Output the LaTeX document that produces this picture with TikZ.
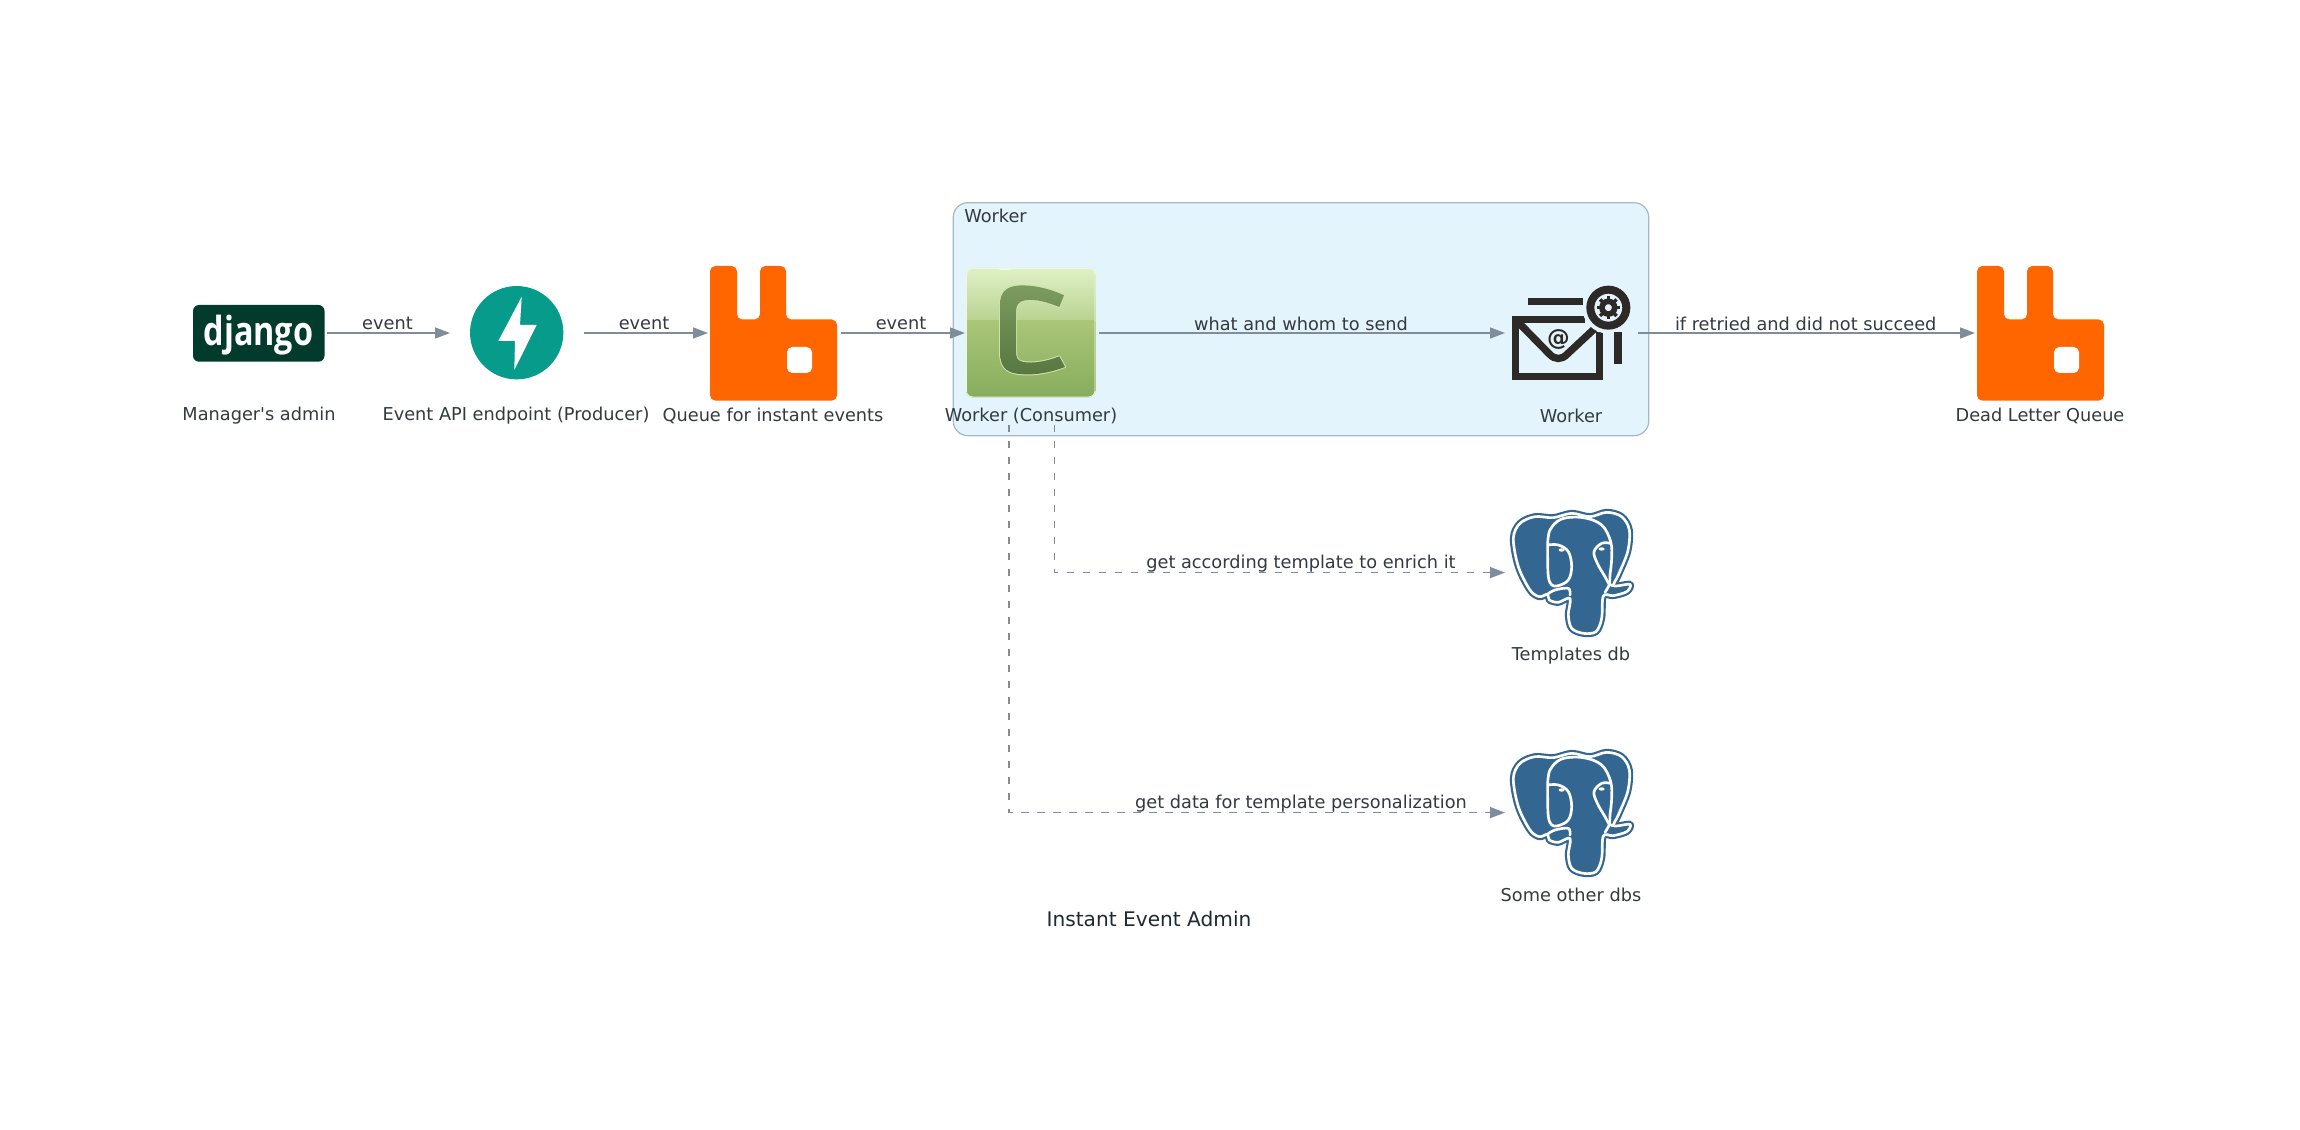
\documentclass[tikz,border=0pt]{standalone}
\usepackage{fontspec}
\setmainfont{DejaVu Sans}
\newfontfamily\lblfont{DejaVu Sans}
\newfontfamily\djangofont{Open Sans}
\usetikzlibrary{arrows.meta}
\definecolor{linec}{HTML}{7F8C9B}
\definecolor{textc}{HTML}{333A40}
\definecolor{titlec}{HTML}{1F2A30}
\definecolor{clusterfill}{HTML}{E3F4FC}
\definecolor{clusterline}{HTML}{A6B8C6}
\definecolor{rabbitc}{HTML}{FF6600}
\definecolor{djangoc}{HTML}{023B2B}
\definecolor{fastc}{HTML}{079B8B}
\definecolor{pgc}{HTML}{336791}
\definecolor{mailc}{HTML}{2D2926}
\definecolor{celA}{HTML}{E0F0C6}
\definecolor{celB}{HTML}{B9D391}
\definecolor{celC}{HTML}{AAC679}
\definecolor{celD}{HTML}{86AC5C}
\definecolor{celE}{HTML}{7C9C60}
\definecolor{celG}{HTML}{587640}
\definecolor{celF}{HTML}{CFE2AE}
\tikzset{
  x=0.75pt,y=-0.75pt,
  iconbox/.style={inner sep=0pt,outer sep=0pt,minimum width=#1*0.75pt,minimum height=100pt},
  lbl/.style={text=textc,font=\lblfont\fontsize{13.3}{15}\selectfont,inner sep=0pt,anchor=center},
  edgelbl/.style={lbl},
  flow/.style={draw=linec,line width=1.1pt,-{Triangle[length=11.25pt,width=8.25pt,fill=linec]},shorten <=1.5pt,shorten >=1.5pt},
  dashflow/.style={flow,dash pattern=on 5.5pt off 6.5pt},
  rabbit/.pic={
    \fill[rabbitc,rounded corners=4pt,even odd rule]
      (0,0)--(27,0)--(27,53.5)--(50,53.5)--(50,0)--(76,0)--(76,53.5)--(127,53.5)--(127,134.7)--(0,134.7)--cycle;
    \fill[white,rounded corners=4pt] (77,81) rectangle (102,107);
  },
  elephant/.pic={
    \begin{scope}[shift={(-81.5,-77.6)},x=0.25pt,y=-0.25pt,line cap=round,line join=round]
      \def\outl{(70,130)(90,85)(135,65)(190,68)(245,55)(300,65)(350,52)(395,65)(418,105)(413,170)(385,240)(372,272)(420,268)(410,290)(370,302)(340,303)(335,370)(318,410)(280,415)(245,400)(235,360)(240,310)(205,322)(178,315)(172,298)(148,305)(120,285)(85,215)}
      \draw[pgc,fill=pgc,line width=5.25pt] plot[smooth cycle,tension=.55] coordinates {\outl};
      \draw[white,line width=2pt] plot[smooth cycle,tension=.55] coordinates {\outl};
      \draw[white,line width=2pt] plot[smooth,tension=.6] coordinates {(173,150)(180,105)(215,72)(280,68)(335,90)(362,140)(365,190)(360,240)(358,268)(345,292)};
      \draw[white,line width=2pt] plot[smooth,tension=.6] coordinates {(173,150)(205,150)(235,170)(245,215)(235,255)(205,272)(185,270)(175,245)(173,190)(173,150)};
      \draw[white,line width=2pt] plot[smooth,tension=.6] coordinates {(362,145)(335,145)(312,170)(322,205)(345,245)(358,268)(372,272)};
      \draw[white,line width=2pt] plot[smooth,tension=.6] coordinates {(172,298)(195,285)(235,280)(240,300)};
      \fill[white] (215,165) ellipse (9 and 5);
      \fill[white] (335,162) ellipse (9 and 5);
    \end{scope}
  },
}
\begin{document}
\begin{tikzpicture}
\useasboundingbox (0,0) rectangle (2300,1130);
\fill[white] (0,0) rectangle (2300,1130);

% cluster
\node[draw=clusterline,fill=clusterfill,line width=0.9pt,rounded corners=11pt,minimum width=695.5*0.75pt,minimum height=233*0.75pt,inner sep=0pt,outer sep=0pt] (cluster) at (1301,319.2) {};
\node[lbl,anchor=west] (clusterlbl) at (964,216) {Worker};

% icon anchor boxes
\node[iconbox=132] (django) at (259,333) {};
\node[iconbox=130] (fast) at (517,333) {};
\node[iconbox=129] (queue) at (774.5,333) {};
\node[iconbox=130] (celery) at (1032,333) {};
\node[iconbox=129] (mail) at (1571.5,333) {};
\node[iconbox=129] (dlq) at (2041.5,333) {};
\node[iconbox=129] (pgone) at (1571.5,572.6) {};
\node[iconbox=129] (pgtwo) at (1571.5,812.6) {};

% django
\fill[djangoc,rounded corners=4.5pt] (193,305) rectangle (324.5,361.7);
\node[text=white,inner sep=0pt,font=\djangofont\bfseries\fontsize{30}{31}\selectfont,xscale=.81] (djangotext) at (258.5,335) {django};

% fastapi
\fill[fastc] (516.7,332.7) circle (35pt);
\fill[white] (521.7,296.7)--(498.3,341)--(515,341)--(514.3,370)--(536.7,325)--(520,325)--cycle;

% rabbits
\pic at (710,266) {rabbit};
\pic at (1977,266) {rabbit};

% celery
\begin{scope}[shift={(960,262)},x=0.25pt,y=-0.25pt]
  \begin{scope}
    \clip[rounded corners=5pt] (18,18) rectangle (406,406);
    \shade[top color=celA,bottom color=celB] (18,18) rectangle (406,176);
    \shade[top color=celC,bottom color=celD] (18,176) rectangle (406,406);
    \draw[white!45!celA,line width=1.2pt,rounded corners=5pt] (18,18) rectangle (406,406);
    \fill[white!50!celA] (135,18) ellipse (24 and 7);
  \end{scope}
  \def\cshape{(312,100) .. controls (270,80) and (210,65) .. (165,72) .. controls (130,78) and (120,100) .. (120,130) -- (120,270) .. controls (120,310) and (135,330) .. (170,335) .. controls (220,342) and (270,332) .. (315,315) -- (298,283) .. controls (260,298) and (220,305) .. (190,300) .. controls (172,297) and (168,285) .. (168,270) -- (168,150) .. controls (168,130) and (175,118) .. (195,115) .. controls (230,110) and (265,122) .. (298,135) -- cycle}
  \draw[celF,line width=1.5pt,line join=round] \cshape;
  \shade[top color=celE,bottom color=celG] \cshape;
\end{scope}

% mail
\begin{scope}[shift={(1490,270)},x=0.25pt,y=-0.25pt,draw=mailc,line width=5.5pt]
  \draw[miter limit=10] (286,148)--(76,148)--(76,319)--(329,319)--(329,185);
  \draw (80,152)--(178,252) .. controls (195,270) and (215,270) .. (232,252)--(318,172);
  \fill[clusterfill] (355,113) circle (19.5pt);
  \draw[line width=6pt] (355,113) circle (54);
  \fill[mailc] (113,85) rectangle (280,105);
  \fill[mailc] (373,185) rectangle (396,283);
  \draw[line width=4.2pt] (355,113) circle (19);
  \foreach \a in {0,45,...,315}
    \draw[line width=2.6pt] (355,113)++(\a:24)--++(\a:11);
  \node[text=mailc,inner sep=0pt,font=\lblfont\bfseries\fontsize{17}{18}\selectfont] (at) at (205,210) {@};
\end{scope}

% elephants
\pic at (pgone.center) {elephant};
\pic at (pgtwo.center) {elephant};

% node labels
\node[lbl] (l1) at (259,416) {Manager's admin};
\node[lbl] (l2) at (516,416) {Event API endpoint (Producer)};
\node[lbl] (l3) at (773,416) {Queue for instant events};
\node[lbl] (l4) at (1031,416) {Worker (Consumer)};
\node[lbl] (l5) at (1571,416) {Worker};
\node[lbl] (l6) at (1571,656) {Templates db};
\node[lbl] (l7) at (1571,895) {Some other dbs};
\node[lbl] (l8) at (2040,416) {Dead Letter Queue};
\node[text=titlec,inner sep=0pt,font=\lblfont\fontsize{15.1}{18}\selectfont] (title) at (1149,919) {Instant Event Admin};

% connector free ends
\coordinate (dfrom) at (1054.7,425);
\coordinate (efrom) at (1009,425);

% connectors
\draw[flow] (django.east) -- (fast.west);
\draw[flow] (fast.east) -- (queue.west);
\draw[flow] (queue.east) -- (celery.west);
\draw[flow] (celery.east) -- (mail.west);
\draw[flow] (mail.east) -- (dlq.west);
\draw[dashflow,shorten <=0pt] (dfrom) |- (pgone.west);
\draw[dashflow,shorten <=0pt] (efrom) |- (pgtwo.west);

% edge labels
\node[edgelbl] (e1) at (387.5,323.5) {event};
\node[edgelbl] (e2) at (644,323.5) {event};
\node[edgelbl] (e3) at (901,323.5) {event};
\node[edgelbl] (e4) at (1301,323.5) {what and whom to send};
\node[edgelbl] (e5) at (1805.7,323.5) {if retried and did not succeed};
\node[edgelbl] (e6) at (1301,564) {get according template to enrich it};
\node[edgelbl] (e7) at (1301,804) {get data for template personalization};
\end{tikzpicture}
\end{document}
